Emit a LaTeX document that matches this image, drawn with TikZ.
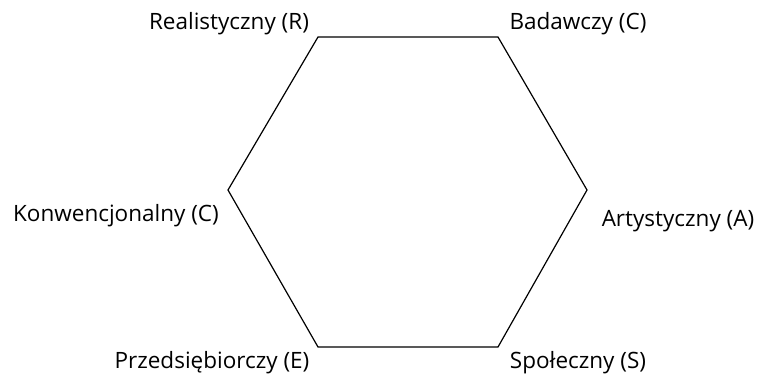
\documentclass[tikz,border=0pt]{standalone}
\usepackage{fontspec}
\setmainfont{Open Sans}
\begin{document}
\begin{tikzpicture}[x=1pt, y=-1pt]
	\tikzstyle{type}  = [inner sep=0pt, anchor=base, font=\fontsize{22.5pt}{26pt}\selectfont]

	\useasboundingbox (0, 0) rectangle (761, 381);

	\foreach \name/\x/\y in {r/318/37, c/498/37, a/587/190, s/498/347, e/318/347, k/228/190}
		\coordinate (\name) at (\x, \y);

	\draw[line width=1.2pt, line join=miter] (r) -- (c) -- (a) -- (s) -- (e) -- (k) -- cycle;

	\foreach \name/\x/\y/\text in {lr/229/29/Realistyczny (R), lc/578/29/Badawczy (C), lk/116/221/Konwencjonalny (C), la/678/226/Artystyczny (A), le/212/368/Przedsiębiorczy (E), ls/578/368/Społeczny (S)}
		\node[type] (\name) at (\x, \y) {\text};
\end{tikzpicture}
\end{document}
